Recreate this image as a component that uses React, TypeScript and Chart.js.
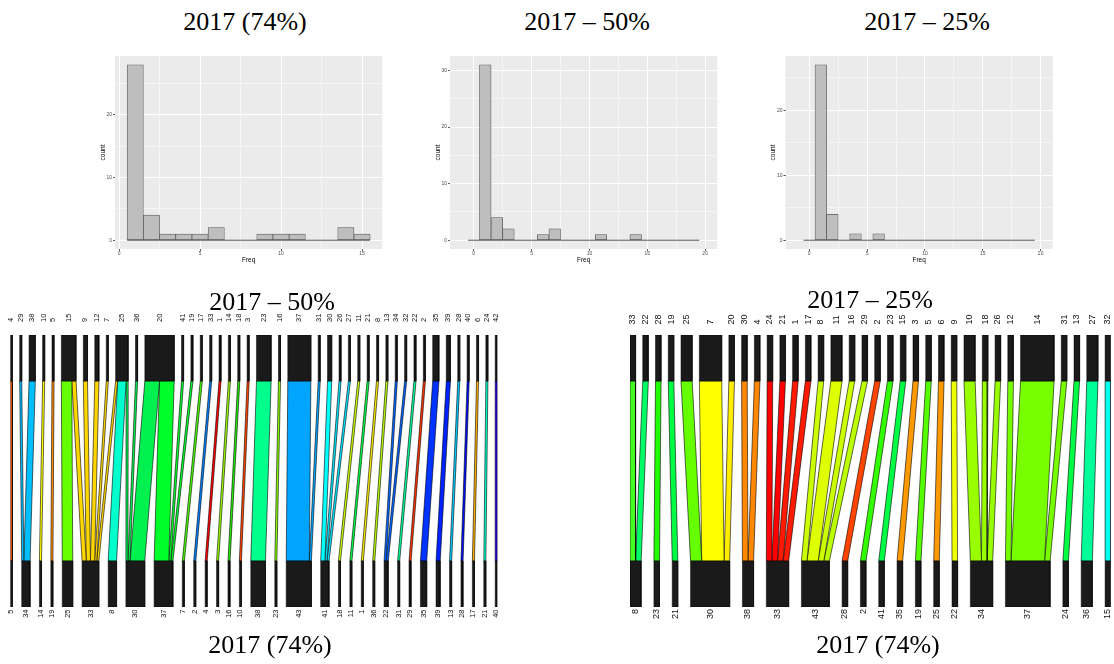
import React, { useEffect, useRef } from 'react';
import { Chart, registerables } from 'chart.js';

Chart.register(...registerables);

const SANS = '"Liberation Sans", Arial, sans-serif';
const SERIF = '"Liberation Serif", "Times New Roman", serif';
Chart.defaults.font.family = SANS;

// ---------- Freq histograms ----------
const freqBins74 = [1, 2, 3, 4, 5, 6, 7, 8, 9, 10, 11, 12, 13, 14, 15];
const freqCounts74 = [28, 4, 1, 1, 1, 2, 0, 0, 1, 1, 1, 0, 0, 2, 1];
const freqLimits74 = [0.5, 15.5];

const freqBins50 = [0, 1, 2, 3, 4, 5, 6, 7, 8, 9, 10, 11, 12, 13, 14, 15, 16, 17, 18, 19];
const freqCounts50 = [0, 31, 4, 2, 0, 0, 1, 2, 0, 0, 0, 1, 0, 0, 1, 0, 0, 0, 0, 0];
const freqLimits50 = [-1, 20];

const freqBins25 = [0, 1, 2, 3, 4, 5, 6, 7, 8, 9, 10, 11, 12, 13, 14, 15, 16, 17, 18, 19];
const freqCounts25 = [0, 27, 4, 0, 1, 0, 1, 0, 0, 0, 0, 0, 0, 0, 0, 0, 0, 0, 0, 0];
const freqLimits25 = [-1, 20];

const freqTicks74 = [0, 5, 10, 15];
const freqTicksWide = [0, 5, 10, 15, 20];
const countTicks74 = [0, 10, 20];
const countTicks50 = [0, 10, 20, 30];
const countTicks25 = [0, 10, 20];

// ---------- River: 2017 - 50% (top) -> 2017 (74%) (bottom) ----------
const river50Top = [4, 29, 38, 10, 5, 15, 9, 12, 7, 25, 36, 20, 41, 19, 17, 33, 1, 14, 18, 3, 23, 16, 37, 31, 30, 26, 27, 11, 21, 8, 13, 34, 32, 22, 2, 35, 39, 28, 40, 6, 24, 42];
const river50Bottom = [5, 34, 14, 19, 25, 33, 8, 30, 37, 7, 2, 4, 3, 16, 10, 38, 23, 43, 41, 18, 11, 1, 36, 22, 31, 29, 35, 39, 13, 28, 17, 21, 40];
const river50From = [4, 29, 38, 10, 5, 15, 15, 9, 12, 7, 25, 25, 25, 36, 20, 20, 41, 19, 17, 33, 1, 14, 18, 3, 23, 16, 37, 31, 30, 26, 27, 11, 21, 8, 13, 34, 32, 22, 2, 35, 39, 28, 40, 6, 24, 42];
const river50To = [5, 34, 34, 14, 19, 25, 33, 33, 33, 33, 33, 8, 30, 30, 30, 37, 37, 37, 7, 2, 4, 3, 16, 10, 38, 23, 43, 43, 41, 41, 41, 18, 11, 1, 36, 22, 22, 31, 29, 35, 39, 13, 28, 17, 21, 40];
const river50Size = [1, 1, 3, 1, 1, 5, 2, 2, 2, 1, 1, 4, 1, 1, 7, 7, 1, 1, 1, 1, 1, 1, 1, 1, 7, 1, 11, 1, 2, 1, 1, 1, 1, 1, 1, 1, 1, 1, 1, 3, 2, 1, 1, 1, 1, 1];
const river50Colour = [
  '#ff5a00', '#00bfff', '#00bfff', '#ffff00', '#ff8c00', '#66ff00', '#ffd700', '#ffd700', '#ffd700', '#ffd700',
  '#ffd700', '#00ffcc', '#00f050', '#00f050', '#00f050', '#00ff2a', '#00ff2a', '#00ff2a', '#44ff00', '#0080ff',
  '#ff0000', '#99ff00', '#22ee00', '#ff4400', '#00ff8c', '#88ff00', '#00a5ff', '#00a5ff', '#00ffff', '#00e5ff',
  '#00e5ff', '#ccff00', '#00ff44', '#ffee00', '#bbff00', '#0066ff', '#0066ff', '#00ff99', '#ff3300', '#0033ff',
  '#0022ff', '#00ccff', '#0011ff', '#ffb000', '#00ffcc', '#3300ff',
];

// ---------- River: 2017 - 25% (top) -> 2017 (74%) (bottom) ----------
const river25Top = [33, 22, 28, 19, 25, 7, 20, 30, 4, 24, 21, 1, 17, 8, 11, 16, 29, 2, 23, 15, 3, 5, 6, 9, 10, 18, 26, 12, 14, 31, 13, 27, 32];
const river25Bottom = [8, 23, 21, 30, 38, 33, 43, 28, 2, 41, 35, 19, 25, 22, 34, 37, 24, 36, 15];
const river25From = [33, 22, 28, 19, 25, 7, 20, 30, 4, 24, 21, 1, 17, 8, 11, 16, 29, 2, 23, 15, 3, 5, 6, 9, 10, 18, 26, 12, 14, 31, 13, 27, 32];
const river25To = [8, 8, 23, 21, 30, 30, 30, 38, 38, 33, 33, 33, 33, 43, 43, 43, 43, 28, 2, 41, 35, 19, 25, 22, 34, 34, 34, 37, 37, 37, 24, 36, 15];
const river25Size = [1, 1, 1, 1, 2, 4, 1, 1, 1, 1, 1, 1, 1, 1, 2, 1, 1, 1, 1, 1, 1, 1, 1, 1, 2, 1, 1, 1, 6, 1, 1, 2, 1];
const river25Colour = [
  '#44ff22', '#00ff66', '#22ff00', '#00ff44', '#66ff00', '#ffff00', '#ffee00', '#ff8800', '#ff8800', '#ff0000',
  '#ff0000', '#ff1a00', '#ff1a00', '#ccff00', '#ddff00', '#ccff00', '#bbff00', '#ff4400', '#33ff00', '#00ff44',
  '#ff9900', '#55ff00', '#ff9900', '#eeff00', '#99ff00', '#99ff00', '#99ff00', '#77ff00', '#77ff00', '#77ff00',
  '#00ff44', '#00ff99', '#00ffee',
];

// ---------- shared helpers ----------
const panelBackground = {
  id: 'panelBackground',
  beforeDraw(chart: any, _args: any, opts: any) {
    if (!opts || !opts.color) return;
    const { ctx, chartArea } = chart;
    ctx.save();
    ctx.fillStyle = opts.color;
    ctx.fillRect(chartArea.left, chartArea.top, chartArea.width, chartArea.height);
    ctx.restore();
  },
};

// ggplot-style 5% expansion of a range
function expand(lo: number, hi: number) {
  const d = (hi - lo) * 0.05;
  return [lo - d, hi + d];
}

// major grid values plus the minor ones halfway between them
function gridValues(major: number[], lo: number, hi: number) {
  const half = (major[1] - major[0]) / 2;
  const out: number[] = [];
  for (let v = major[0] - half; v <= hi + 1e-9; v += half) if (v >= lo) out.push(v);
  return out;
}

const HIST_TOP = 50;
const HIST_W = 297;
const HIST_H = 222;
const HIST_AXIS_W = 20;
const HIST_AXIS_H = 18;
const PANEL_W = 267.3;

function Histogram(props: any) {
  const ref = useRef<HTMLCanvasElement>(null);
  const { bins, counts, limits, xMajor, yMajor, left, padLeft } = props;
  useEffect(() => {
    const [xMin, xMax] = expand(limits[0], limits[1]);
    const [yMin, yMax] = expand(0, Math.max(...counts));
    const xGrid = gridValues(xMajor, xMin, xMax);
    const yGrid = gridValues(yMajor, yMin, yMax);
    const tickFont = { size: 5, family: SANS };
    const titleFont = { size: 6.5, family: SANS };
    const chart = new Chart(ref.current as HTMLCanvasElement, {
      type: 'bar',
      data: {
        datasets: [
          {
            type: 'bar',
            data: bins.map((b: number, i: number) => ({ x: b, y: counts[i] })),
            backgroundColor: '#bebebe',
            borderColor: '#595959',
            borderWidth: 0.75,
            borderSkipped: false,
            barPercentage: 1,
            categoryPercentage: 1,
            order: 1,
          },
          {
            type: 'line',
            data: [
              { x: bins[0] - 0.5, y: 0 },
              { x: bins[bins.length - 1] + 0.5, y: 0 },
            ],
            borderColor: '#595959',
            borderWidth: 1,
            pointRadius: 0,
            order: 2,
          },
        ],
      } as any,
      options: {
        responsive: false,
        animation: false,
        events: [],
        layout: { padding: { top: 6, bottom: 5, left: padLeft, right: HIST_W - HIST_AXIS_W - padLeft - PANEL_W } },
        plugins: {
          legend: { display: false },
          tooltip: { enabled: false },
          panelBackground: { color: '#ebebeb' },
        } as any,
        scales: {
          x: {
            type: 'linear',
            min: xMin,
            max: xMax,
            offset: false,
            afterBuildTicks: (s: any) => { s.ticks = xGrid.map((v) => ({ value: v })); },
            afterFit: (s: any) => { s.height = HIST_AXIS_H; s.paddingLeft = 0; s.paddingRight = 0; },
            grid: {
              offset: false,
              color: '#ffffff',
              lineWidth: (c: any) => (xMajor.includes(c.tick?.value) ? 1 : 0.5),
              drawTicks: true,
              tickLength: 2,
              tickWidth: 0.8,
              tickColor: (c: any) => (xMajor.includes(c.tick?.value) ? '#333333' : 'rgba(0,0,0,0)'),
            },
            border: { display: false },
            ticks: {
              autoSkip: false,
              maxRotation: 0,
              padding: 0,
              font: tickFont,
              color: '#4d4d4d',
              callback: (v: any) => (xMajor.includes(v) ? String(v) : ''),
            },
            title: { display: true, text: 'Freq', color: '#000000', font: titleFont, padding: { top: 0, bottom: 2.6 } },
          },
          y: {
            type: 'linear',
            min: yMin,
            max: yMax,
            afterBuildTicks: (s: any) => { s.ticks = yGrid.map((v) => ({ value: v })); },
            afterFit: (s: any) => { s.width = HIST_AXIS_W; s.paddingTop = 0; s.paddingBottom = 0; },
            grid: {
              color: '#ffffff',
              lineWidth: (c: any) => (yMajor.includes(c.tick?.value) ? 1 : 0.5),
              drawTicks: true,
              tickLength: 2,
              tickWidth: 0.8,
              tickColor: (c: any) => (yMajor.includes(c.tick?.value) ? '#333333' : 'rgba(0,0,0,0)'),
            },
            border: { display: false },
            ticks: {
              autoSkip: false,
              padding: 1,
              font: tickFont,
              color: '#4d4d4d',
              callback: (v: any) => (yMajor.includes(v) ? String(v) : ''),
            },
            title: { display: true, text: 'count', color: '#000000', font: titleFont, padding: { top: 4, bottom: 0 } },
          },
        },
      } as any,
      plugins: [panelBackground],
    });
    return () => chart.destroy();
  }, []);
  return (
    <canvas
      ref={ref}
      width={HIST_W}
      height={HIST_H}
      style={{ position: 'absolute', left, top: HIST_TOP, width: HIST_W, height: HIST_H }}
    />
  );
}

// ---------- river (alluvial) panels ----------
const RIVER_TOP = 300;
const RIVER_H = 335;
const NODE_DEPTH = 46;
const FLOW_LENGTH = 180;

function buildRiver(p: any) {
  const topSize = new Map<number, number>();
  const botSize = new Map<number, number>();
  p.from.forEach((n: number, i: number) => topSize.set(n, (topSize.get(n) || 0) + p.size[i]));
  p.to.forEach((n: number, i: number) => botSize.set(n, (botSize.get(n) || 0) + p.size[i]));

  const rowStarts = (nodes: number[], sizes: Map<number, number>) => {
    const total = nodes.reduce((s, n) => s + (sizes.get(n) || 0), 0);
    const gap = (p.span - total) / (nodes.length - 1);
    const starts = new Map<number, number>();
    let x = 0;
    nodes.forEach((n) => { starts.set(n, x); x += (sizes.get(n) || 0) + gap; });
    return starts;
  };
  const topStart = rowStarts(p.top, topSize);
  const botStart = rowStarts(p.bottom, botSize);
  const ti = new Map<number, number>(p.top.map((n: number, i: number) => [n, i]));
  const bi = new Map<number, number>(p.bottom.map((n: number, i: number) => [n, i]));

  const ids = p.from.map((_: number, i: number) => i);
  const upper: number[] = [];
  const lower: number[] = [];
  const curT = new Map(topStart);
  const curB = new Map(botStart);
  [...ids]
    .sort((a, b) => ti.get(p.from[a])! - ti.get(p.from[b])! || bi.get(p.to[a])! - bi.get(p.to[b])!)
    .forEach((f) => { upper[f] = curT.get(p.from[f])!; curT.set(p.from[f], upper[f] + p.size[f]); });
  [...ids]
    .sort((a, b) => bi.get(p.to[a])! - bi.get(p.to[b])! || ti.get(p.from[a])! - ti.get(p.from[b])!)
    .forEach((f) => { lower[f] = curB.get(p.to[f])!; curB.set(p.to[f], lower[f] + p.size[f]); });

  const yFlowLo = NODE_DEPTH;
  const yFlowHi = NODE_DEPTH + FLOW_LENGTH;
  const yTopHi = 2 * NODE_DEPTH + FLOW_LENGTH;
  const quad = (a: number, b: number, c: number, d: number, hi: number, lo: number) => [
    { x: a, y: hi }, { x: b, y: hi }, { x: c, y: lo }, { x: d, y: lo }, { x: a, y: hi },
  ];

  const nodeSets = [
    ...p.top.map((n: number) => quad(topStart.get(n)!, topStart.get(n)! + topSize.get(n)!, topStart.get(n)! + topSize.get(n)!, topStart.get(n)!, yTopHi, yFlowHi)),
    ...p.bottom.map((n: number) => quad(botStart.get(n)!, botStart.get(n)! + botSize.get(n)!, botStart.get(n)! + botSize.get(n)!, botStart.get(n)!, yFlowLo, 0)),
  ].map((d) => ({
    type: 'line', data: d, fill: 'shape', backgroundColor: '#1a1a1a', borderColor: '#000000', borderWidth: 0.5, pointRadius: 0, tension: 0,
  }));

  const flowSets = ids.map((f: number) => ({
    type: 'line',
    data: quad(upper[f], upper[f] + p.size[f], lower[f] + p.size[f], lower[f], yFlowHi, yFlowLo),
    fill: 'shape',
    backgroundColor: p.colour[f],
    borderColor: '#000000',
    borderWidth: 0.6,
    pointRadius: 0,
    tension: 0,
  }));

  return {
    datasets: [...nodeSets, ...flowSets],
    yMax: yTopHi,
    topTicks: p.top.map((n: number) => topStart.get(n)! + topSize.get(n)! / 2),
    bottomTicks: p.bottom.map((n: number) => botStart.get(n)! + botSize.get(n)! / 2),
  };
}

function River(props: any) {
  const ref = useRef<HTMLCanvasElement>(null);
  const { left, width, padLeft, padRight, labelSize, topGap, bottomGap } = props;
  useEffect(() => {
    const r = buildRiver(props);
    const font = { size: labelSize, family: SANS, lineHeight: 1.2 };
    const chart = new Chart(ref.current as HTMLCanvasElement, {
      type: 'line',
      data: { datasets: r.datasets } as any,
      options: {
        responsive: false,
        animation: false,
        events: [],
        layout: { padding: { top: 7, bottom: 4, left: padLeft, right: padRight } },
        plugins: { legend: { display: false }, tooltip: { enabled: false } },
        scales: {
          x: {
            type: 'linear',
            position: 'bottom',
            min: 0,
            max: props.span,
            grid: { display: false, drawTicks: false },
            border: { display: false },
            afterBuildTicks: (s: any) => { s.ticks = r.bottomTicks.map((v: number) => ({ value: v })); },
            afterFit: (s: any) => { s.height = 24; s.paddingLeft = 0; s.paddingRight = 0; },
            ticks: {
              autoSkip: false,
              minRotation: 90,
              maxRotation: 90,
              padding: bottomGap,
              font,
              color: '#111111',
              callback: (_v: any, i: number) => String(props.bottom[i]),
            },
          },
          xTop: {
            axis: 'x',
            type: 'linear',
            position: 'top',
            min: 0,
            max: props.span,
            grid: { display: false, drawTicks: false },
            border: { display: false },
            afterBuildTicks: (s: any) => { s.ticks = r.topTicks.map((v: number) => ({ value: v })); },
            afterFit: (s: any) => { s.height = 28; s.paddingLeft = 0; s.paddingRight = 0; },
            ticks: {
              autoSkip: false,
              minRotation: 90,
              maxRotation: 90,
              padding: topGap,
              // rotated labels on a top axis sit one line to the left; shift them back over their node
              labelOffset: labelSize * 1.2,
              font,
              color: '#111111',
              callback: (_v: any, i: number) => String(props.top[i]),
            },
          },
          y: { type: 'linear', display: false, min: 0, max: r.yMax },
        },
      } as any,
    });
    return () => chart.destroy();
  }, []);
  return (
    <canvas
      ref={ref}
      width={width}
      height={RIVER_H}
      style={{ position: 'absolute', left, top: RIVER_TOP, width, height: RIVER_H }}
    />
  );
}

function Title({ text, cx, top }: { text: string; cx: number; top: number }) {
  return (
    <div
      style={{
        position: 'absolute',
        left: cx,
        top,
        transform: 'translateX(-50%)',
        fontFamily: SERIF,
        fontSize: 26,
        lineHeight: '26px',
        whiteSpace: 'nowrap',
        color: '#000',
      }}
    >
      {text}
    </div>
  );
}

export default function App() {
  return (
    <div style={{ position: 'absolute', left: 0, top: 0, width: 1114, height: 664, background: '#ffffff', overflow: 'hidden' }}>
      <Histogram bins={freqBins74} counts={freqCounts74} limits={freqLimits74} xMajor={freqTicks74} yMajor={countTicks74} left={95} padLeft={0} />
      <Histogram bins={freqBins50} counts={freqCounts50} limits={freqLimits50} xMajor={freqTicksWide} yMajor={countTicks50} left={430} padLeft={0} />
      <Histogram bins={freqBins25} counts={freqCounts25} limits={freqLimits25} xMajor={freqTicksWide} yMajor={countTicks25} left={765} padLeft={0.5} />

      <River
        top={river50Top}
        bottom={river50Bottom}
        from={river50From}
        to={river50To}
        size={river50Size}
        colour={river50Colour}
        span={232}
        left={0}
        width={530}
        padLeft={10.3}
        padRight={32.7}
        labelSize={7.5}
        topGap={13}
        bottomGap={2.5}
      />
      <River
        top={river25Top}
        bottom={river25Bottom}
        from={river25From}
        to={river25To}
        size={river25Size}
        colour={river25Colour}
        span={86}
        left={600}
        width={514}
        padLeft={30}
        padRight={3.3}
        labelSize={9}
        topGap={10.5}
        bottomGap={2}
      />

      <Title text="2017 (74%)" cx={245} top={9} />
      <Title text="2017 – 50%" cx={587} top={9} />
      <Title text="2017 – 25%" cx={927} top={9} />
      <Title text="2017 – 50%" cx={272} top={289} />
      <Title text="2017 (74%)" cx={270} top={632} />
      <Title text="2017 – 25%" cx={870} top={287} />
      <Title text="2017 (74%)" cx={878} top={632} />
    </div>
  );
}
